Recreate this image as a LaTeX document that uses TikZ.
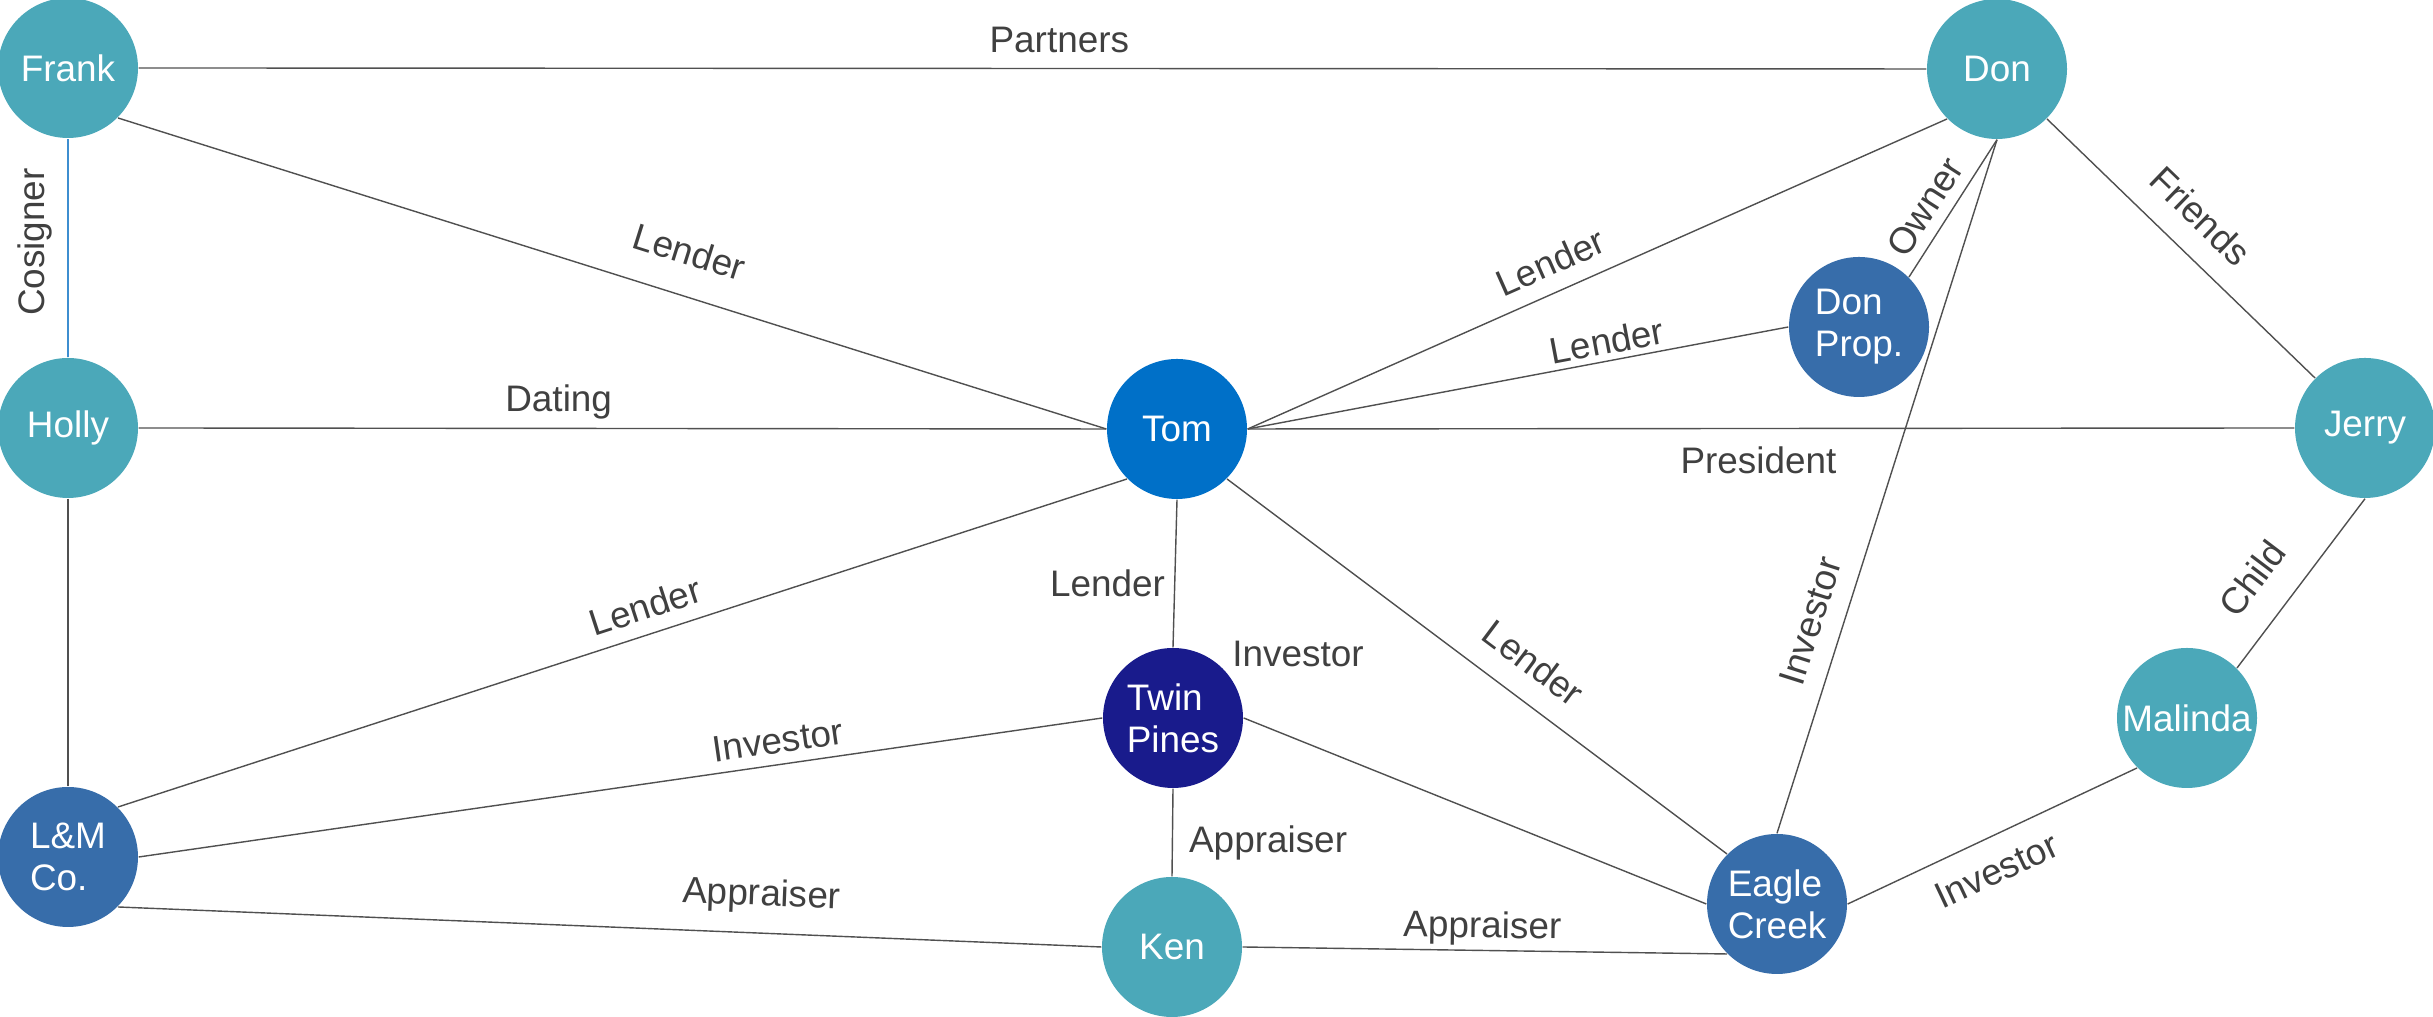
\documentclass[tikz,border=0pt]{standalone}
\usepackage{fontspec}
\setmainfont{Liberation Sans}
\definecolor{personteal}{HTML}{4BA8B9}
\definecolor{tomblue}{HTML}{0070C8}
\definecolor{pinesblue}{HTML}{191B8C}
\definecolor{firmblue}{HTML}{376DAA}
\definecolor{labelgray}{HTML}{404040}
\definecolor{linegray}{HTML}{505050}
\definecolor{cosignblue}{HTML}{3E8ED0}

\begin{document}
\begin{tikzpicture}[
	party/.style={circle,minimum size=1.4cm,inner sep=0pt,text=white,align=left,font=\fontsize{10.5}{12}\selectfont},
	lbl/.style={text=labelgray,inner sep=0pt,text height=0.27cm,text depth=0pt,font=\fontsize{10.5}{12}\selectfont},
	lup/.style={lbl,sloped,anchor=south,inner ysep=#1},
	ldn/.style={lbl,sloped,anchor=north,inner ysep=#1},
	link/.style={draw=linegray,line width=0.4pt}]
	\useasboundingbox (0,0) rectangle (24.33,10.17);
	\node[party,fill=personteal] (frank) at (0.68,9.49) {Frank};
	\node[party,fill=personteal] (don) at (19.97,9.48) {Don};
	\node[party,fill=personteal] (holly) at (0.68,5.89) {Holly};
	\node[party,fill=tomblue] (tom) at (11.77,5.88) {Tom};
	\node[party,fill=personteal] (jerry) at (23.65,5.89) {Jerry};
	\node[party,fill=firmblue] (donprop) at (18.59,6.90) {Don\\Prop.};
	\node[party,fill=pinesblue] (pines) at (11.73,2.99) {Twin\\Pines};
	\node[party,fill=personteal] (malinda) at (21.87,2.99) {Malinda};
	\node[party,fill=firmblue] (lm) at (0.68,1.60) {L\&M\\Co.};
	\node[party,fill=personteal] (ken) at (11.72,0.70) {Ken};
	\node[party,fill=firmblue] (eagle) at (17.77,1.13) {Eagle\\Creek};

	\draw[link] (frank.east) -- node[lup=0.15cm,pos=0.515] {Partners} (don.west);
	\draw[draw=cosignblue,line width=0.4pt] (holly.north) -- node[lup=0.23cm,allow upside down,pos=0.527] {Cosigner} (frank.south);
	\draw[link] (frank.-45) -- node[lup=0.30cm,pos=0.565] {Lender} (tom.west);
	\draw[link] (holly.east) -- node[lup=0.16cm,pos=0.434] {Dating} (tom.west);
	\draw[link] (holly.south) -- (lm.north);
	\draw[link] (tom.east) -- node[lup=0.16cm,pos=0.45] {Lender} (don.-135);
	\draw[link] (tom.east) -- node[lup=0.06cm,pos=0.671] {Lender} (donprop.west);
	\draw[link] (donprop.45) -- node[lup=0.11cm,pos=0.415] {Owner} (don.south);
	\draw[link] (eagle.north) -- node[lup=0.19cm,pos=0.292] {Investor} (don.south);
	\draw[link] (don.-45) -- node[lup=0.23cm,pos=0.477] {Friends} (jerry.135);
	\draw[link] (tom.east) -- node[ldn=0.17cm,pos=0.488] {President} (jerry.west);
	\draw[link] (malinda.45) -- node[lup=0.28cm,pos=0.381] {Child} (jerry.south);
	\draw[link] (eagle.east) -- node[ldn=0.18cm,pos=0.466] {Investor} (malinda.-135);
	\draw[link] (tom.south) -- node[lbl,left,inner xsep=0.09cm,pos=0.564] {Lender} (pines.north);
	\draw[link] (pines.east) -- node[lbl,anchor=west,xshift=-0.12cm,yshift=0.65cm,pos=0] {Investor} (eagle.west);
	\draw[link] (tom.-45) -- node[lup=0.23cm,pos=0.569] {Lender} (eagle.135);
	\draw[link] (lm.45) -- node[lup=0.14cm,pos=0.531] {Lender} (tom.-135);
	\draw[link] (lm.east) -- node[lup=0.11cm,pos=0.667] {Investor} (pines.west);
	\draw[link] (pines.south) -- node[lbl,right,inner xsep=0.16cm,pos=0.58] {Appraiser} (ken.north);
	\draw[link] (lm.-45) -- node[lup=0.27cm,pos=0.653] {Appraiser} (ken.west);
	\draw[link] (ken.east) -- node[lup=0.12cm,pos=0.494] {Appraiser} (eagle.-135);
\end{tikzpicture}
\end{document}
